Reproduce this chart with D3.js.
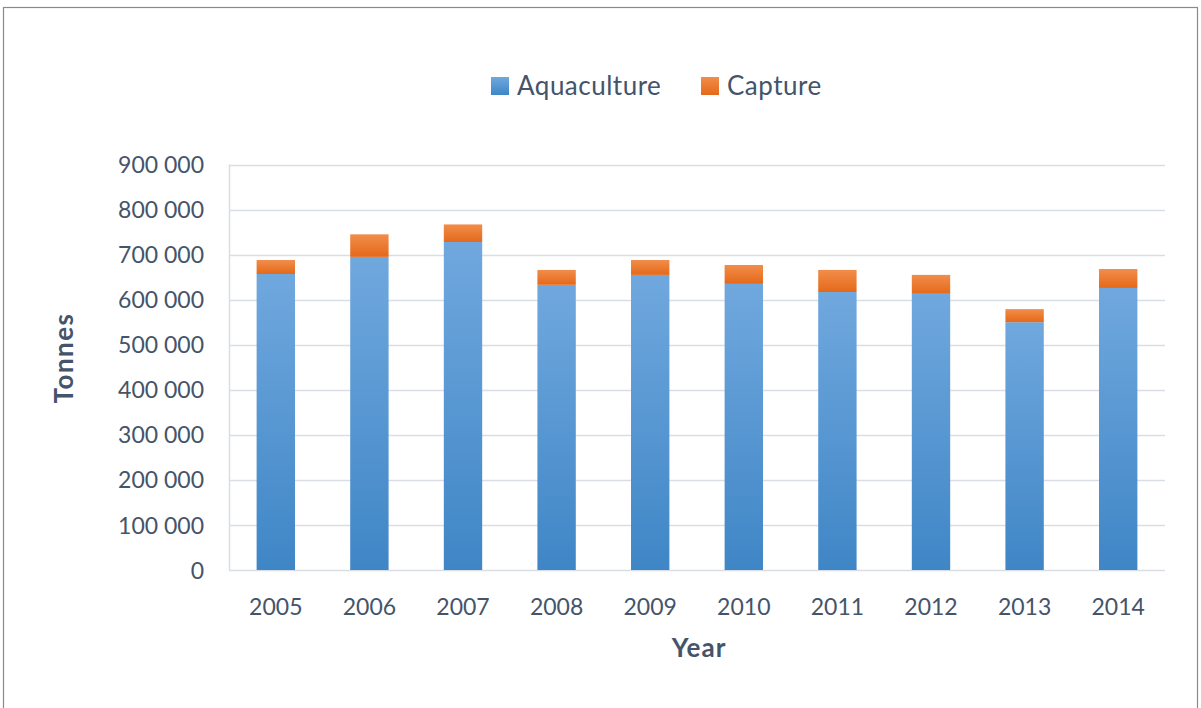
<!DOCTYPE html>
<html>
<head>
<meta charset="utf-8">
<script src="https://cdn.jsdelivr.net/npm/d3@7"></script>
<style>
  html, body { margin: 0; padding: 0; background: #fff; }
  svg { display: block; font-family: Lato, "Open Sans", sans-serif; }
</style>
</head>
<body>
<svg id="chart" width="1201" height="708"></svg>
<script>
// Production by year, in tonnes
const years = ["2005", "2006", "2007", "2008", "2009", "2010", "2011", "2012", "2013", "2014"];
const aquaculture = [657000, 695000, 728000, 633000, 655000, 635000, 617000, 613000, 550000, 626000];
const capture = [31000, 50000, 39000, 33000, 33000, 42000, 49000, 42000, 29000, 42000];
const seriesNames = ["Aquaculture", "Capture"];
const yTicks = [0, 100000, 200000, 300000, 400000, 500000, 600000, 700000, 800000, 900000];

const textColor = "#44546a";
const svg = d3.select("#chart");

// Gradients for the two series
const defs = svg.append("defs");
const grads = [
  { id: "gAqua", top: "#70a8de", bottom: "#3f86c6" },
  { id: "gCap", top: "#f28d4a", bottom: "#e4691a" }
];
grads.forEach(g => {
  const lg = defs.append("linearGradient").attr("id", g.id)
    .attr("x1", 0).attr("y1", 0).attr("x2", 0).attr("y2", 1);
  lg.append("stop").attr("offset", "0%").attr("stop-color", g.top);
  lg.append("stop").attr("offset", "100%").attr("stop-color", g.bottom);
});
const fills = ["url(#gAqua)", "url(#gCap)"];

// Outer frame
svg.append("rect")
  .attr("x", 3.5).attr("y", 7.5)
  .attr("width", 1194).attr("height", 740)
  .attr("fill", "none").attr("stroke", "#8a8a8a").attr("stroke-width", 1.2);

const plot = { left: 229, right: 1165, top: 164.5, bottom: 570 };

const x = d3.scaleBand().domain(years)
  .range([plot.left, plot.right]).paddingInner(0.59).paddingOuter(0.295);
const y = d3.scaleLinear().domain([0, 900000]).range([plot.bottom, plot.top]);

// Gridlines
svg.append("g").selectAll("line").data(yTicks).join("line")
  .attr("x1", plot.left).attr("x2", plot.right)
  .attr("y1", d => Math.round(y(d)) + 0.5).attr("y2", d => Math.round(y(d)) + 0.5)
  .attr("stroke", "#d9dde5").attr("stroke-width", 1.5);

// Left axis line
svg.append("line")
  .attr("x1", plot.left + 0.5).attr("x2", plot.left + 0.5)
  .attr("y1", y(900000)).attr("y2", plot.bottom)
  .attr("stroke", "#d9dde5").attr("stroke-width", 1.5);

// Stacked bars
const rows = years.map((yr, i) => ({ year: yr, Aquaculture: aquaculture[i], Capture: capture[i] }));
const stacked = d3.stack().keys(seriesNames)(rows);

svg.append("g").selectAll("g").data(stacked).join("g")
  .attr("fill", (d, i) => fills[i])
  .selectAll("rect").data(d => d).join("rect")
  .attr("x", d => x(d.data.year))
  .attr("width", x.bandwidth())
  .attr("y", d => y(d[1]))
  .attr("height", d => y(d[0]) - y(d[1]));

// Y axis labels
const fmt = v => v === 0 ? "0" : d3.format(",")(v).replace(/,/g, " ");
const yAxis = d3.axisLeft(y).tickValues(yTicks).tickFormat(fmt).tickSize(0).tickPadding(0);
const yg = svg.append("g").attr("transform", "translate(204,0)").call(yAxis);
yg.select(".domain").remove();
yg.selectAll("text").attr("fill", textColor).style("font-size", "23px")
  .style("font-family", "Lato, 'Open Sans', sans-serif").attr("dy", "0.35em");

// X axis labels
const xAxis = d3.axisBottom(x).tickSize(0).tickPadding(0);
const xg = svg.append("g").attr("transform", `translate(0,${plot.bottom})`).call(xAxis);
xg.select(".domain").remove();
xg.selectAll("text").attr("fill", textColor).style("font-size", "23px")
  .style("font-family", "Lato, 'Open Sans', sans-serif").attr("y", 45).attr("dy", 0);

// Axis titles
svg.append("text").attr("x", 699).attr("y", 657)
  .attr("text-anchor", "middle").attr("fill", textColor)
  .style("font-size", "26px").style("font-weight", "bold").style("letter-spacing", "1px")
  .text("Year");

svg.append("text").attr("transform", "translate(73,358) rotate(-90)")
  .attr("text-anchor", "middle").attr("fill", textColor)
  .style("font-size", "26px").style("font-weight", "bold").style("letter-spacing", "1.5px")
  .text("Tonnes");

// Legend
const legendItems = [
  { name: seriesNames[0], x: 491, fill: fills[0] },
  { name: seriesNames[1], x: 701, fill: fills[1] }
];
const lg = svg.append("g");
legendItems.forEach(it => {
  lg.append("rect").attr("x", it.x).attr("y", 77).attr("width", 18).attr("height", 18).attr("fill", it.fill);
  lg.append("text").attr("x", it.x + 26).attr("y", 95).attr("fill", textColor)
    .style("font-size", "26px").style("letter-spacing", "0.5px").text(it.name);
});
</script>
</body>
</html>
